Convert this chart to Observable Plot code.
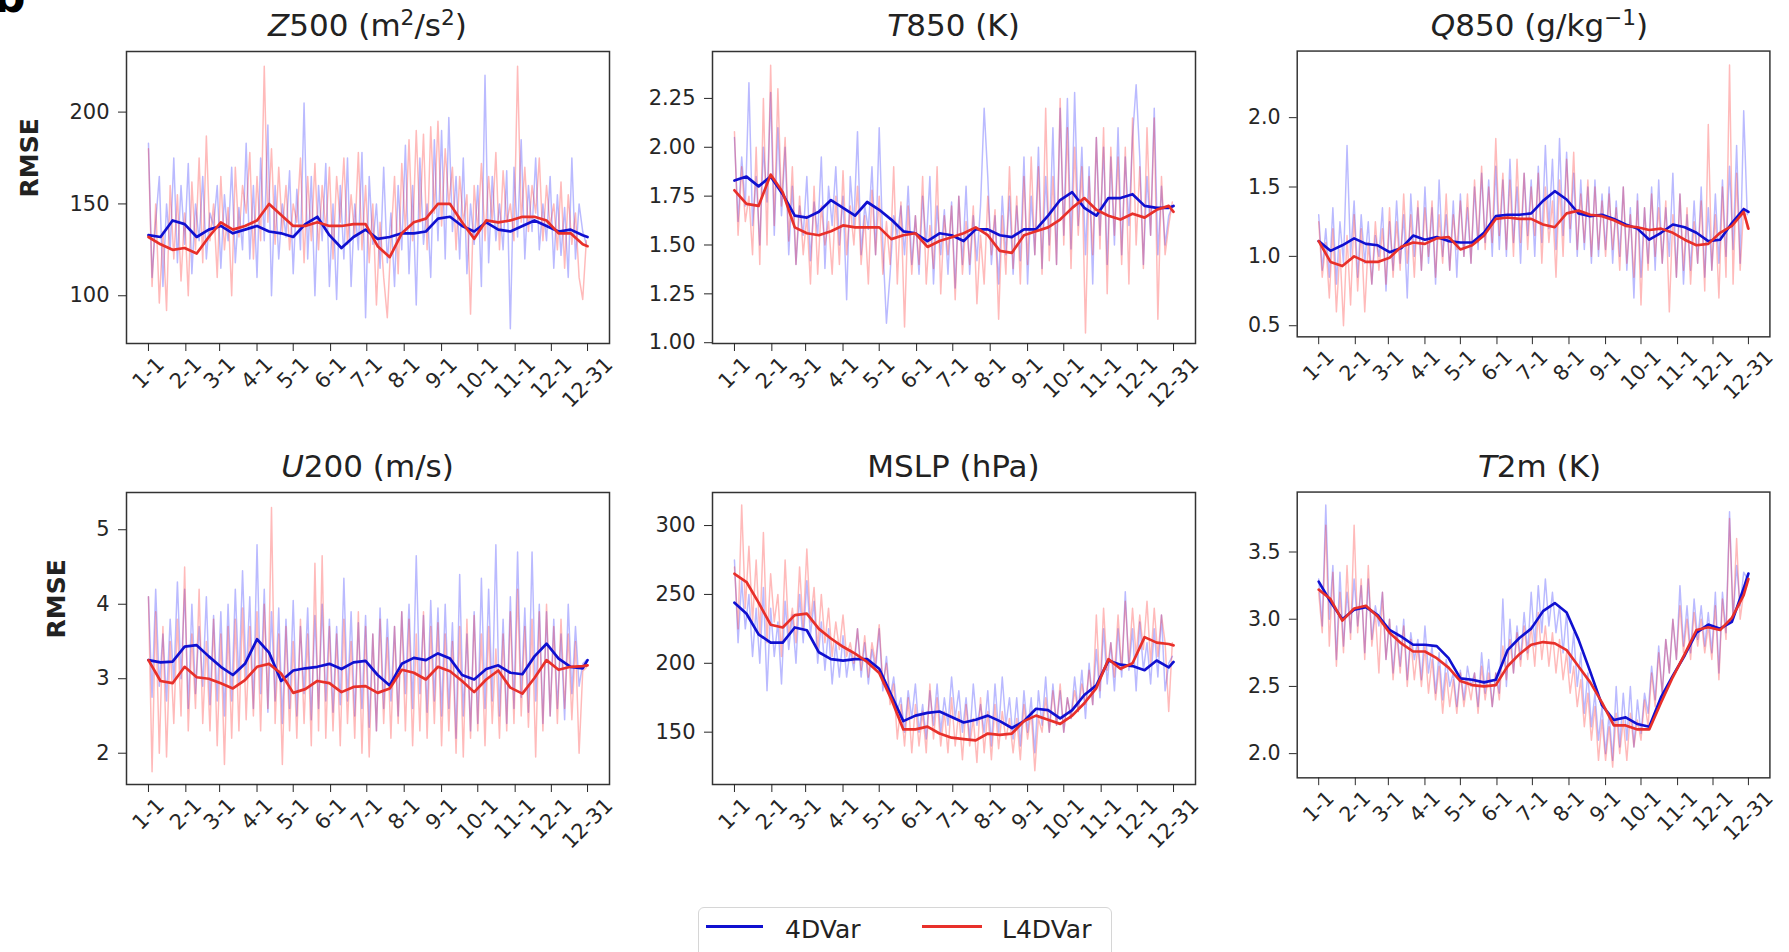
<!DOCTYPE html>
<html><head><meta charset="utf-8">
<script src="https://cdn.jsdelivr.net/npm/d3@7"></script>
<script src="https://cdn.jsdelivr.net/npm/@observablehq/plot@0.6"></script>
<style>
body{margin:0;background:#fff;width:1789px;height:952px;overflow:hidden;position:relative;font-family:"DejaVu Sans",sans-serif;color:#222}
.panel{position:absolute}
.title{position:absolute;text-align:center;font-size:31px;line-height:1;white-space:nowrap;color:#222}
.title sup{font-size:0.7em;line-height:0;vertical-align:0.5em}
.leg{position:absolute;font-size:25px;line-height:1;color:#222;white-space:nowrap}
.sw{position:absolute;height:3px}
</style></head>
<body>
<script>
// ---------- x axis (day of year) ----------
const monthTickDays = [0,31,59,90,120,151,181,212,243,273,304,334,364];
const monthTickLabels = ["1-1","2-1","3-1","4-1","5-1","6-1","7-1","8-1","9-1","10-1","11-1","12-1","12-31"];
const smoothDays = [0,10,20,30,40,50,60,70,80,90,100,110,120,130,140,150,160,170,180,190,200,210,220,230,240,250,260,270,280,290,300,310,320,330,340,350,360,364];
const dailyStep = 3;
const seriesNames = ["4DVar","L4DVar"];

// ---------- Z500 ----------
const z500Ticks = [100,150,200];
const z500_4dvar_daily = [183,110,140,165,105,150,125,175,118,160,128,172,112,150,130,165,120,145,138,160,115,155,130,170,118,148,125,183,120,160,110,175,130,193,100,160,120,150,132,168,112,158,125,205,120,165,100,160,130,172,105,150,98,160,120,175,105,150,125,178,88,165,128,150,115,170,118,145,105,160,125,182,112,160,95,175,128,150,110,185,130,190,120,197,135,165,120,175,112,150,128,160,105,220,118,165,130,150,125,168,82,170,132,185,120,160,135,175,125,150,130,165,115,155,122,148,110,175,120,150,135,128];
const z500_l4dvar_daily = [180,105,150,96,135,92,160,120,155,108,145,100,162,125,175,118,187,130,150,110,165,125,148,100,170,132,160,145,178,120,165,130,225,140,180,128,170,135,160,125,150,140,175,118,165,130,172,125,160,135,170,120,165,140,175,128,155,132,178,125,160,118,150,95,140,110,88,130,165,112,172,135,185,130,190,140,188,125,192,145,195,138,180,150,170,125,165,140,155,90,160,135,172,130,165,140,178,125,168,140,150,130,225,140,170,135,160,145,175,130,160,138,150,125,162,115,155,128,145,110,98,130];
const z500_4dvar_smooth = [133,132,141,139,132,136,138,134,136,138,135,134,132,139,143,133,126,132,136,131,132,134,134,135,142,143,138,135,140,136,135,138,141,138,135,136,133,132];
const z500_l4dvar_smooth = [132,128,125,126,123,132,140,136,138,141,150,144,138,138,140,138,138,139,139,127,121,134,140,142,150,150,140,131,141,140,141,143,143,141,134,134,128,127];

// ---------- T850 ----------
const t850Ticks = [1.00,1.25,1.50,1.75,2.00,2.25];
const t850_4dvar_daily = [2.05,1.62,1.95,1.70,2.33,1.60,1.85,1.50,2.00,1.72,2.28,1.55,2.10,1.65,2.00,1.45,1.80,1.40,1.70,1.55,1.85,1.42,1.72,1.55,1.95,1.38,1.80,1.60,1.90,1.50,1.75,1.22,1.85,1.60,2.08,1.45,1.70,1.58,1.90,1.45,2.10,1.50,1.10,1.35,1.65,1.55,1.70,1.45,1.80,1.40,1.65,1.35,1.75,1.50,1.85,1.30,1.70,1.45,1.68,1.35,1.72,1.28,1.75,1.40,1.80,1.35,1.65,1.42,1.70,2.20,1.85,1.40,1.65,1.30,1.75,1.45,1.75,1.35,1.70,1.42,1.95,1.30,1.75,1.45,2.00,1.38,1.85,1.50,2.10,1.40,2.20,1.55,2.25,1.48,2.28,1.60,2.00,1.45,1.90,1.30,2.05,1.55,2.00,1.40,1.95,1.50,2.10,1.45,1.95,1.60,2.05,2.32,1.95,1.40,1.85,1.55,2.20,1.45,1.80,1.50,1.65,1.70];
const t850_l4dvar_daily = [2.08,1.55,1.90,1.62,1.75,1.45,2.00,1.40,2.25,1.50,2.42,1.60,2.30,1.70,2.05,1.52,1.90,1.40,1.75,1.45,1.65,1.30,1.80,1.35,1.70,1.50,1.62,1.35,1.75,1.40,1.88,1.45,1.70,1.50,1.80,1.40,1.65,1.30,1.78,1.45,1.75,1.35,1.62,1.40,1.90,1.30,1.72,1.08,1.70,1.35,1.65,1.40,1.85,1.30,1.60,1.38,1.90,1.25,1.65,1.45,1.70,1.22,1.75,1.35,1.62,1.40,1.70,1.20,1.55,1.30,1.75,1.45,1.68,1.12,1.65,1.35,1.90,1.38,1.75,1.30,1.85,1.40,1.95,1.45,1.90,1.35,2.20,1.42,1.85,1.40,2.25,1.50,2.10,1.38,2.00,1.55,1.90,1.05,1.85,1.45,2.05,1.48,2.10,1.25,2.00,1.55,1.95,1.40,2.00,1.30,2.15,1.50,1.90,1.38,2.10,1.55,2.15,1.12,1.85,1.45,1.60,1.72];
const t850_4dvar_smooth = [1.83,1.85,1.80,1.85,1.76,1.65,1.64,1.67,1.73,1.69,1.65,1.72,1.68,1.63,1.57,1.56,1.52,1.56,1.55,1.52,1.58,1.58,1.55,1.54,1.58,1.58,1.65,1.73,1.77,1.69,1.65,1.74,1.74,1.76,1.70,1.69,1.69,1.70];
const t850_l4dvar_smooth = [1.78,1.71,1.70,1.86,1.77,1.59,1.56,1.55,1.57,1.60,1.59,1.59,1.59,1.53,1.55,1.56,1.49,1.52,1.54,1.56,1.59,1.55,1.47,1.46,1.55,1.57,1.59,1.63,1.69,1.74,1.68,1.65,1.63,1.66,1.64,1.68,1.70,1.67];

// ---------- Q850 ----------
const q850Ticks = [0.5,1.0,1.5,2.0];
const q850_4dvar_daily = [1.30,0.90,1.20,0.85,1.35,0.80,1.25,0.95,1.80,1.00,1.40,0.85,1.30,0.95,1.25,0.80,1.15,1.00,1.35,0.75,1.25,0.90,1.40,0.95,1.30,0.70,1.45,1.00,1.35,0.90,1.50,0.95,1.35,0.80,1.55,1.00,1.30,0.90,1.40,0.85,1.45,1.00,1.35,0.95,1.50,1.05,1.60,1.10,1.55,1.00,1.65,1.05,1.55,1.00,1.70,1.10,1.50,0.95,1.60,1.15,1.55,1.00,1.65,1.10,1.80,1.20,1.70,1.05,1.85,1.15,1.75,1.10,1.60,1.00,1.55,1.05,1.50,0.95,1.55,1.00,1.45,1.05,1.50,0.95,1.40,1.00,1.50,0.90,1.35,0.70,1.45,0.85,1.35,0.95,1.50,0.90,1.55,0.95,1.35,1.00,1.60,0.85,1.45,0.80,1.30,0.90,1.40,0.95,1.50,0.85,1.35,0.90,1.45,0.95,1.55,1.00,1.65,1.05,1.80,0.95,2.05,1.30];
const q850_l4dvar_daily = [1.25,0.85,1.10,0.70,1.20,0.60,1.05,0.50,1.15,0.65,1.30,0.75,1.20,0.60,1.10,0.80,1.25,0.90,1.20,0.80,1.35,0.85,1.25,0.90,1.45,0.95,1.30,0.85,1.40,0.90,1.35,1.00,1.40,0.85,1.30,0.95,1.45,0.90,1.30,1.05,1.40,1.00,1.45,0.95,1.55,1.10,1.65,1.05,1.50,1.10,1.85,1.15,1.60,1.05,1.55,1.00,1.70,1.10,1.60,1.05,1.50,1.15,1.60,0.95,1.50,1.10,1.40,0.85,1.55,1.00,1.70,1.20,1.75,1.05,1.45,1.10,1.55,1.00,1.50,1.05,1.40,1.00,1.45,1.05,1.35,0.90,1.50,0.95,1.30,0.85,1.40,0.65,1.35,0.90,1.45,1.00,1.35,0.95,1.40,0.60,1.30,0.85,1.45,0.90,1.35,0.80,1.25,0.95,1.40,0.75,1.95,0.90,1.30,0.70,1.50,0.85,2.38,0.80,1.60,0.90,1.35,1.20];
const q850_4dvar_smooth = [1.11,1.04,1.08,1.13,1.09,1.08,1.03,1.06,1.15,1.12,1.14,1.11,1.10,1.10,1.17,1.29,1.30,1.30,1.31,1.40,1.47,1.41,1.31,1.29,1.30,1.27,1.23,1.20,1.12,1.17,1.23,1.21,1.17,1.11,1.12,1.24,1.34,1.32];
const q850_l4dvar_smooth = [1.11,0.96,0.93,1.00,0.96,0.96,0.99,1.07,1.10,1.09,1.13,1.14,1.05,1.08,1.15,1.27,1.28,1.27,1.27,1.23,1.21,1.31,1.33,1.30,1.29,1.26,1.22,1.21,1.19,1.20,1.17,1.12,1.08,1.09,1.17,1.22,1.32,1.20];

// ---------- U200 ----------
const u200Ticks = [2,3,4,5];
const u200_4dvar_daily = [4.10,2.75,4.20,2.90,3.60,2.70,3.80,2.95,4.30,3.00,4.20,2.60,4.00,2.80,3.70,2.90,4.10,2.65,3.85,2.70,3.90,2.50,4.00,2.70,4.20,2.95,4.45,3.00,4.10,2.60,4.80,2.80,4.20,2.55,3.90,2.70,3.95,2.40,3.80,2.60,4.05,2.50,3.70,2.80,3.95,2.45,3.85,2.60,4.00,2.70,3.80,2.55,3.70,2.65,4.35,2.70,3.90,2.50,3.75,2.60,3.85,2.35,3.60,2.30,3.95,2.60,3.80,2.70,3.70,2.50,3.90,2.80,4.00,2.60,4.65,2.80,3.85,2.55,4.05,2.70,3.95,2.50,4.00,2.60,3.75,2.20,4.40,2.50,3.60,2.30,3.90,2.40,4.35,2.60,4.20,2.70,4.80,2.50,3.80,2.40,4.10,2.60,4.70,2.75,3.95,2.55,4.70,2.70,4.00,2.40,3.90,2.50,3.80,2.60,3.60,2.45,4.00,2.80,3.70,2.90,3.20,3.25];
const u200_l4dvar_daily = [4.10,1.75,3.90,2.00,3.70,1.95,3.50,2.40,3.80,2.50,4.50,2.30,3.60,2.60,4.20,2.40,3.50,2.30,3.80,2.10,3.60,1.85,3.70,2.20,3.80,2.30,3.95,2.45,3.70,2.50,3.90,2.30,4.00,2.60,5.30,2.40,3.60,1.85,3.70,2.30,3.50,2.20,3.80,2.40,3.60,2.10,4.55,2.30,4.65,2.20,3.70,2.30,3.60,2.10,3.80,2.40,3.50,2.20,3.90,2.00,3.70,1.95,3.60,2.30,3.80,2.40,3.55,2.20,3.70,2.40,3.90,2.30,3.80,2.10,3.60,2.30,3.90,2.20,3.70,2.40,3.75,2.10,3.60,2.30,3.50,2.00,3.70,1.95,3.80,2.20,3.85,2.30,3.60,2.10,3.70,2.40,3.40,2.20,3.60,2.30,3.90,2.40,4.20,2.50,3.70,2.35,3.80,1.95,3.90,2.30,4.00,2.50,3.70,2.40,3.80,2.60,3.60,2.45,3.50,2.00,3.10,3.15];
const u200_4dvar_smooth = [3.25,3.22,3.23,3.43,3.45,3.30,3.16,3.05,3.20,3.53,3.35,2.97,3.11,3.14,3.16,3.20,3.13,3.22,3.24,3.05,2.91,3.20,3.28,3.25,3.34,3.27,3.05,2.99,3.13,3.18,3.08,3.06,3.30,3.47,3.27,3.16,3.14,3.25];
const u200_l4dvar_smooth = [3.25,2.97,2.94,3.16,3.02,3.00,2.94,2.87,2.98,3.16,3.20,3.07,2.81,2.86,2.97,2.94,2.82,2.89,2.90,2.81,2.87,3.12,3.08,2.99,3.16,3.10,2.97,2.82,2.99,3.11,2.88,2.80,3.01,3.25,3.12,3.16,3.17,3.18];

// ---------- MSLP ----------
const mslpTicks = [150,200,250,300];
const mslp_4dvar_daily = [275,215,260,225,250,205,240,200,255,180,240,205,230,185,245,210,235,200,250,215,260,220,245,200,230,195,225,185,215,190,220,190,210,195,225,190,215,185,210,195,225,180,205,175,190,165,175,150,180,160,185,150,170,145,180,155,185,150,175,155,190,160,180,150,175,145,185,155,170,150,180,140,185,150,190,155,175,145,175,140,180,150,175,135,180,155,190,150,185,155,180,150,175,160,190,165,195,160,200,170,210,175,225,185,215,180,225,190,252,195,225,180,230,195,215,185,225,190,235,180,200,205];
const mslp_l4dvar_daily = [270,225,315,240,285,230,275,220,295,215,265,230,250,205,275,220,240,215,270,225,283,230,255,210,250,215,240,205,230,210,235,205,215,200,225,195,220,190,215,200,228,185,200,170,185,145,170,140,175,135,170,140,165,135,185,145,175,140,165,135,175,140,165,130,170,140,160,128,175,135,165,130,170,138,165,145,160,135,160,130,170,145,165,122,160,150,175,150,180,155,185,150,175,160,180,165,185,170,195,170,235,180,240,195,215,190,235,195,245,200,240,205,235,210,245,200,240,205,235,215,165,215];
const mslp_4dvar_smooth = [244,236,221,215,215,226,224,208,203,202,203,203,196,177,158,162,164,165,161,157,159,162,158,153,158,167,166,160,166,177,184,202,199,198,195,202,197,201];
const mslp_l4dvar_smooth = [265,259,244,228,226,235,236,225,218,212,207,201,193,174,152,152,154,149,146,145,144,149,148,149,158,162,159,156,162,171,182,203,196,200,219,215,214,213];

// ---------- T2m ----------
const t2mTicks = [2.0,2.5,3.0,3.5];
const t2m_4dvar_daily = [3.30,2.95,3.85,3.00,3.40,2.70,3.35,2.80,3.20,2.90,3.30,2.95,3.25,2.75,3.30,2.85,3.10,2.95,3.20,2.70,3.00,2.60,2.95,2.65,3.00,2.55,2.90,2.70,2.85,2.55,2.95,2.60,2.80,2.45,2.75,2.40,2.70,2.50,2.60,2.35,2.62,2.40,2.65,2.50,2.60,2.35,2.75,2.45,2.70,2.35,2.60,2.45,3.15,2.50,3.00,2.60,2.95,2.70,3.05,2.75,3.20,2.80,3.25,2.90,3.30,2.95,3.20,2.90,3.10,2.75,3.05,2.60,2.90,2.50,2.75,2.30,2.60,2.20,2.45,2.10,2.35,2.00,2.30,1.95,2.50,2.05,2.45,2.10,2.50,2.05,2.40,2.15,2.45,2.30,2.65,2.40,2.80,2.45,2.85,2.60,3.00,2.70,3.25,2.80,3.10,2.75,3.15,2.85,3.10,2.80,3.05,2.75,3.20,2.60,3.20,2.90,3.80,3.00,3.40,3.10,3.35,3.30];
const t2m_l4dvar_daily = [3.20,2.90,3.70,2.80,3.35,2.65,3.20,2.75,3.40,2.85,3.70,2.90,3.30,2.70,3.40,2.80,3.05,2.60,3.20,2.70,3.00,2.55,2.90,2.60,2.95,2.50,2.85,2.55,2.80,2.50,2.80,2.45,2.70,2.40,2.65,2.30,2.60,2.35,2.55,2.30,2.60,2.35,2.55,2.40,2.60,2.30,2.65,2.40,2.60,2.35,2.60,2.40,2.80,2.55,2.85,2.60,2.90,2.65,2.95,2.70,2.95,2.65,3.05,2.70,2.95,2.65,2.90,2.60,2.85,2.55,2.75,2.45,2.65,2.35,2.55,2.20,2.45,2.10,2.35,1.95,2.25,1.95,2.20,1.90,2.30,2.00,2.25,1.95,2.30,2.05,2.25,2.10,2.40,2.20,2.60,2.35,2.75,2.45,2.85,2.60,3.00,2.70,3.10,2.75,3.00,2.70,3.05,2.80,3.00,2.75,2.95,2.70,3.10,2.55,3.15,2.85,3.75,3.00,3.60,3.00,3.20,3.30];
const t2m_4dvar_smooth = [3.28,3.13,3.00,3.07,3.09,3.03,2.92,2.87,2.81,2.81,2.80,2.71,2.56,2.55,2.53,2.55,2.77,2.86,2.93,3.06,3.12,3.05,2.85,2.61,2.36,2.25,2.27,2.22,2.20,2.42,2.58,2.73,2.90,2.96,2.93,2.98,3.23,3.34];
const t2m_l4dvar_smooth = [3.22,3.15,2.99,3.08,3.10,3.02,2.90,2.82,2.76,2.76,2.71,2.64,2.54,2.51,2.50,2.51,2.65,2.74,2.81,2.83,2.82,2.77,2.65,2.53,2.38,2.21,2.21,2.18,2.18,2.38,2.57,2.74,2.92,2.94,2.92,3.01,3.18,3.30];

// ---------- styling ----------
const BLUE = "#1010d0", RED = "#e8302a";
const BLUE_FAINT = "#0000ff", RED_FAINT = "#ff0000";
const FRAME_W = 483, FRAME_H = 292;
const COL_LEFT = [126, 712, 1298];
const ROW_TOP = [51, 492];
const ML = 60, MR = 20, MT = 20, MB = 90;
const TICK_FONT = 21;

const panels = [
  {title:'<i>Z</i>500 (m<sup>2</sup>/s<sup>2</sup>)', row:0, col:0, domain:[74,233], ticks:z500Ticks, fmt:d3.format("d"), d4:z500_4dvar_daily, dl:z500_l4dvar_daily, s4:z500_4dvar_smooth, sl:z500_l4dvar_smooth, rmseDx:-97},
  {title:'<i>T</i>850 (K)', row:0, col:1, domain:[0.996,2.49], ticks:t850Ticks, fmt:d3.format(".2f"), d4:t850_4dvar_daily, dl:t850_l4dvar_daily, s4:t850_4dvar_smooth, sl:t850_l4dvar_smooth},
  {title:'<i>Q</i>850 (g/kg<sup>\u22121</sup>)', row:0, col:2, domain:[0.42,2.48], ticks:q850Ticks, fmt:d3.format(".1f"), d4:q850_4dvar_daily, dl:q850_l4dvar_daily, s4:q850_4dvar_smooth, sl:q850_l4dvar_smooth},
  {title:'<i>U</i>200 (m/s)', row:1, col:0, domain:[1.58,5.50], ticks:u200Ticks, fmt:d3.format("d"), d4:u200_4dvar_daily, dl:u200_l4dvar_daily, s4:u200_4dvar_smooth, sl:u200_l4dvar_smooth, rmseDx:-70},
  {title:'MSLP (hPa)', row:1, col:1, domain:[112,324], ticks:mslpTicks, fmt:d3.format("d"), d4:mslp_4dvar_daily, dl:mslp_l4dvar_daily, s4:mslp_4dvar_smooth, sl:mslp_l4dvar_smooth},
  {title:'<i>T</i>2m (K)', row:1, col:2, domain:[1.82,3.946], ticks:t2mTicks, fmt:d3.format(".1f"), d4:t2m_4dvar_daily, dl:t2m_l4dvar_daily, s4:t2m_4dvar_smooth, sl:t2m_l4dvar_smooth}
];

const labelOf = new Map(monthTickDays.map((d, i) => [d, monthTickLabels[i]]));
// group tick labels by length so each rotated label is centred under its tick with its top aligned
const labelGroups = d3.groups(monthTickDays, d => labelOf.get(d).length).map(([len, days]) => {
  const em = TICK_FONT;
  const w = d3.sum(labelOf.get(days[0]), c => c === "-" ? 0.361 * em : 0.636 * em);
  return {days, pad: 12 + (w + 0.73 * em) * 0.3536};
});

function daily(values) { return values.map((v, i) => ({day: i * dailyStep, v})); }
function smooth(values) { return values.map((v, i) => ({day: smoothDays[i], v})); }

for (const p of panels) {
  const marks = [
    Plot.line(daily(p.d4), {x:"day", y:"v", stroke:BLUE_FAINT, strokeOpacity:0.27, strokeWidth:1.5}),
    Plot.line(daily(p.dl), {x:"day", y:"v", stroke:RED_FAINT, strokeOpacity:0.27, strokeWidth:1.5}),
    Plot.line(smooth(p.s4), {x:"day", y:"v", stroke:BLUE, strokeWidth:2.7}),
    Plot.line(smooth(p.sl), {x:"day", y:"v", stroke:RED, strokeWidth:2.7}),
    Plot.frame({stroke:"#333", strokeWidth:1.5}),
    Plot.axisY({ticks:p.ticks, tickFormat:p.fmt, tickSize:8, tickPadding:9, label:null, fontSize:TICK_FONT}),
    Plot.axisX({ticks:monthTickDays, tickFormat:() => "", tickSize:8, label:null}),
    ...labelGroups.map(g => Plot.axisX({ticks:g.days, tickFormat:d => labelOf.get(d), tickSize:0, tickPadding:g.pad, tickRotate:-45, textAnchor:"middle", lineAnchor:"middle", label:null, fontSize:TICK_FONT}))
  ];
  if (p.rmseDx !== undefined) {
    marks.push(Plot.text(["RMSE"], {text:d => d, frameAnchor:"left", dx:p.rmseDx, rotate:-90, fontWeight:"bold", fontSize:25, fill:"#222"}));
  }
  const chart = Plot.plot({
    width: FRAME_W + ML + MR, height: FRAME_H + MT + MB,
    marginLeft: ML, marginRight: MR, marginTop: MT, marginBottom: MB,
    x: {domain:[-18.2, 382.2]},
    y: {domain:p.domain},
    style: {background:"transparent", overflow:"visible", fontFamily:"DejaVu Sans", fontSize:TICK_FONT + "px", color:"#262626"},
    marks
  });
  const wrap = document.createElement("div");
  wrap.className = "panel";
  wrap.style.left = (COL_LEFT[p.col] - ML) + "px";
  wrap.style.top = (ROW_TOP[p.row] - MT) + "px";
  wrap.appendChild(chart);
  document.body.appendChild(wrap);

  const t = document.createElement("div");
  t.className = "title";
  t.innerHTML = p.title;
  t.style.left = COL_LEFT[p.col] + "px";
  t.style.width = FRAME_W + "px";
  t.style.top = (ROW_TOP[p.row] - 41) + "px";
  document.body.appendChild(t);
}

// panel letter (mostly cut off at the top edge, as in the source figure)
const letter = document.createElement("div");
letter.textContent = "b";
letter.style.cssText = "position:absolute;left:-6px;top:-25px;font:bold 44px 'DejaVu Sans';line-height:1;color:#000";
document.body.appendChild(letter);

// legend
const legBox = document.createElement("div");
legBox.style.cssText = "position:absolute;left:698px;top:907px;width:412px;height:70px;border:1.5px solid #d6d6d6;border-radius:6px;background:#fff";
document.body.appendChild(legBox);
const legItems = [
  {name: seriesNames[0], color: BLUE, x0: 706, x1: 763, tx: 785},
  {name: seriesNames[1], color: RED, x0: 922, x1: 982, tx: 1002}
];
for (const it of legItems) {
  const sw = document.createElement("div");
  sw.className = "sw";
  sw.style.cssText += `left:${it.x0}px;width:${it.x1 - it.x0}px;top:925px;background:${it.color}`;
  document.body.appendChild(sw);
  const tx = document.createElement("div");
  tx.className = "leg";
  tx.textContent = it.name;
  tx.style.left = it.tx + "px";
  tx.style.top = "917px";
  document.body.appendChild(tx);
}
</script>
</body></html>
